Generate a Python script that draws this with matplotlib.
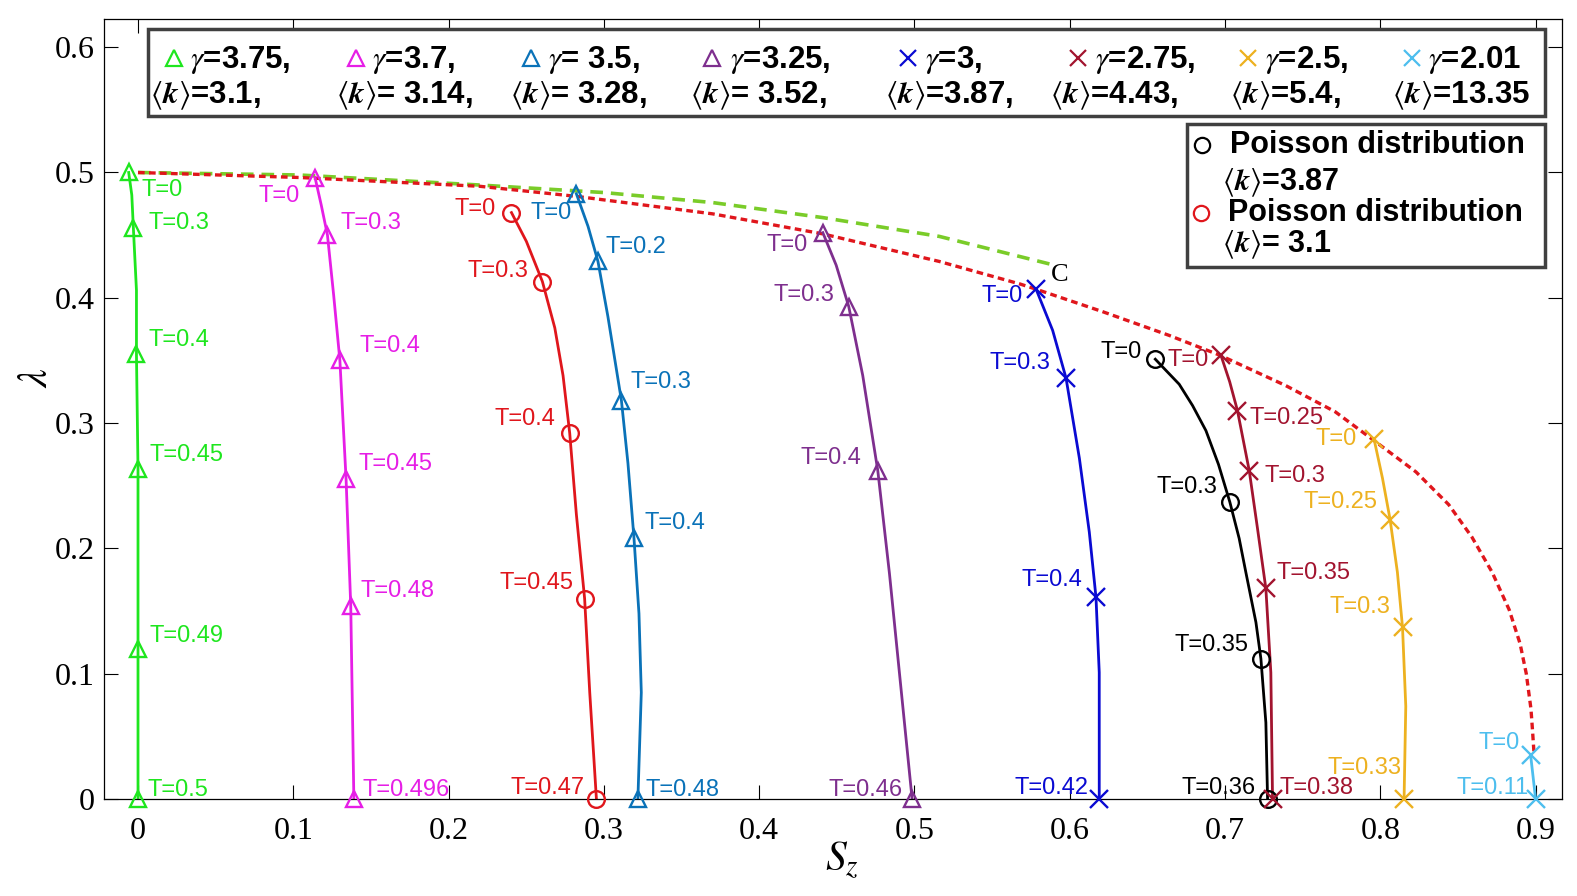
import matplotlib
matplotlib.use('Agg')
import matplotlib.pyplot as plt
from matplotlib.patches import Rectangle
from matplotlib.lines import Line2D

plt.rcParams['font.family'] = ['Liberation Sans', 'DejaVu Sans']
plt.rcParams['mathtext.fontset'] = 'stix'

W, H = 1577, 896

# ---------------- data ----------------
# gamma = 3.75, <k> = 3.1
g375_x = [-0.006, -0.003, -0.001, 0.0, 0.0, 0.0]
g375_y = [0.500, 0.456, 0.355, 0.263, 0.120, 0.0]
g375_T = ['0', '0.3', '0.4', '0.45', '0.49', '0.5']
g375_cx = [-0.006, -0.004, -0.003, -0.001, -0.001, 0.0, 0.0, 0.0]
g375_cy = [0.500, 0.482, 0.456, 0.406, 0.355, 0.263, 0.120, 0.0]

# gamma = 3.7, <k> = 3.14
g37_x = [0.114, 0.122, 0.130, 0.134, 0.137, 0.139]
g37_y = [0.496, 0.450, 0.350, 0.255, 0.154, 0.0]
g37_T = ['0', '0.3', '0.4', '0.45', '0.48', '0.496']
g37_cx = [0.114, 0.118, 0.122, 0.126, 0.130, 0.134, 0.137, 0.139]
g37_cy = [0.496, 0.474, 0.450, 0.402, 0.350, 0.255, 0.154, 0.0]

# Poisson, <k> = 3.1
p31_x = [0.2405, 0.2604, 0.2780, 0.2876, 0.2952]
p31_y = [0.468, 0.413, 0.292, 0.160, 0.0]
p31_T = ['0', '0.3', '0.4', '0.45', '0.47']
p31_cx = [0.2405, 0.2501, 0.2604, 0.2684, 0.2737, 0.2780, 0.2823, 0.2876, 0.2909, 0.2952]
p31_cy = [0.468, 0.445, 0.413, 0.376, 0.338, 0.292, 0.227, 0.160, 0.085, 0.0]

# gamma = 3.5, <k> = 3.28
g35_x = [0.2823, 0.2962, 0.3113, 0.3194, 0.3219]
g35_y = [0.483, 0.429, 0.318, 0.208, 0.0]
g35_T = ['0', '0.2', '0.3', '0.4', '0.48']
g35_cx = [0.2823, 0.2898, 0.2962, 0.3026, 0.3113, 0.3155, 0.3194, 0.3226, 0.3241, 0.3219]
g35_cy = [0.483, 0.457, 0.429, 0.385, 0.318, 0.268, 0.208, 0.148, 0.085, 0.0]

# gamma = 3.25, <k> = 3.52
g325_x = [0.4410, 0.4577, 0.4764, 0.4985]
g325_y = [0.452, 0.393, 0.262, 0.0]
g325_T = ['0', '0.3', '0.4', '0.46']
g325_cx = [0.4410, 0.4496, 0.4577, 0.4667, 0.4764, 0.4839, 0.4903, 0.4985]
g325_cy = [0.452, 0.426, 0.393, 0.338, 0.262, 0.180, 0.101, 0.0]

# gamma = 3, <k> = 3.87
g3_x = [0.5783, 0.5976, 0.6169, 0.6190]
g3_y = [0.407, 0.336, 0.161, 0.0]
g3_T = ['0', '0.3', '0.4', '0.42']
g3_cx = [0.5783, 0.5890, 0.5976, 0.6062, 0.6126, 0.6169, 0.6190, 0.6190]
g3_cy = [0.407, 0.374, 0.336, 0.272, 0.213, 0.161, 0.101, 0.0]

# Poisson, <k> = 3.87
p387_x = [0.6551, 0.7031, 0.7231, 0.7274]
p387_y = [0.351, 0.237, 0.112, 0.0]
p387_T = ['0', '0.3', '0.35', '0.36']
p387_cx = [0.6551, 0.6620, 0.6705, 0.6791, 0.6877, 0.6958, 0.7031, 0.7091,
           0.7134, 0.7199, 0.7231, 0.7263, 0.7274]
p387_cy = [0.351, 0.342, 0.331, 0.314, 0.294, 0.267, 0.237, 0.208,
           0.181, 0.141, 0.112, 0.061, 0.0]

# gamma = 2.75, <k> = 4.43
g275_x = [0.6974, 0.7080, 0.7156, 0.7263, 0.7306]
g275_y = [0.354, 0.310, 0.262, 0.168, 0.0]
g275_T = ['0', '0.25', '0.3', '0.35', '0.38']
g275_cx = [0.6974, 0.7030, 0.7080, 0.7156, 0.7209, 0.7263, 0.7295, 0.7306]
g275_cy = [0.354, 0.333, 0.310, 0.262, 0.216, 0.168, 0.101, 0.0]

# gamma = 2.5, <k> = 5.4
g25_x = [0.7960, 0.8063, 0.8143, 0.8153]
g25_y = [0.287, 0.223, 0.137, 0.0]
g25_T = ['0', '0.25', '0.3', '0.33']
g25_cx = [0.7960, 0.8014, 0.8063, 0.8110, 0.8143, 0.8164, 0.8153]
g25_cy = [0.287, 0.256, 0.223, 0.181, 0.137, 0.074, 0.0]

# gamma = 2.01, <k> = 13.35
g201_x = [0.8968, 0.9000]
g201_y = [0.035, 0.0]
g201_T = ['0', '0.11']

# boundary curves
red_bx = [0.0, 0.104, 0.220, 0.282, 0.370, 0.441, 0.516, 0.568, 0.578, 0.621,
          0.664, 0.697, 0.739, 0.771, 0.796, 0.823, 0.844, 0.859, 0.872, 0.883,
          0.890, 0.894, 0.897, 0.898, 0.899]
red_by = [0.500, 0.496, 0.489, 0.481, 0.467, 0.451, 0.429, 0.411, 0.407, 0.389,
          0.370, 0.354, 0.330, 0.309, 0.286, 0.261, 0.235, 0.209, 0.181, 0.151,
          0.124, 0.100, 0.072, 0.055, 0.036]
green_bx = [0.0, 0.104, 0.220, 0.300, 0.370, 0.441, 0.516, 0.587]
green_by = [0.500, 0.498, 0.490, 0.484, 0.476, 0.464, 0.449, 0.427]

gammas = ['3.75', '3.7', ' 3.5', '3.25', '3', '2.75', '2.5', '2.01']
kmeans = ['3.1', ' 3.14', ' 3.28', ' 3.52', '3.87', '4.43', '5.4', '13.35']

# ---------------- styles / label offsets (pixels) ----------------
g375_off = [(13, -18), (15, 5), (12, 14), (11, 14), (11, 13), (9, 9)]
g37_off = [(-15, -18), (13, 12), (20, 14), (12, 15), (10, 15), (9, 9)]
p31_off = [(-16, 4), (-14, 11), (-14, 14), (-11, 16), (-12, 11)]
g35_off = [(-5, -19), (8, 14), (9, 19), (11, 15), (8, 9)]
g325_off = [(-15, -12), (-14, 12), (-16, 13), (-9, 9)]
g3_off = [(-13, -7), (-16, 15), (-14, 17), (-11, 11)]
p387_off = [(-14, 7), (-12, 15), (-12, 14), (-12, 11)]
g275_off = [(-12, -5), (12, -7), (15, -5), (11, 15), (7, 11)]
g25_off = [(-17, 0), (-13, 18), (-12, 20), (-3, 31)]
g201_off = [(-11, 12), (-7, 11)]

series = [
    (g375_cx, g375_cy, g375_x, g375_y, g375_T, g375_off, '#1ee61e', '^'),
    (g37_cx, g37_cy, g37_x, g37_y, g37_T, g37_off, '#e61ee6', '^'),
    (p31_cx, p31_cy, p31_x, p31_y, p31_T, p31_off, '#e0161c', 'o'),
    (g35_cx, g35_cy, g35_x, g35_y, g35_T, g35_off, '#0a72b8', '^'),
    (g325_cx, g325_cy, g325_x, g325_y, g325_T, g325_off, '#7e2f8e', '^'),
    (g3_cx, g3_cy, g3_x, g3_y, g3_T, g3_off, '#0a0ad2', 'x'),
    (p387_cx, p387_cy, p387_x, p387_y, p387_T, p387_off, 'black', 'o'),
    (g275_cx, g275_cy, g275_x, g275_y, g275_T, g275_off, '#a2142f', 'x'),
    (g25_cx, g25_cy, g25_x, g25_y, g25_T, g25_off, '#edb120', 'x'),
    (g201_x, g201_y, g201_x, g201_y, g201_T, g201_off, '#4dbeee', 'x'),
]
legend_cols = ['#1ee61e', '#e61ee6', '#0a72b8', '#7e2f8e',
               '#0a0ad2', '#a2142f', '#edb120', '#4dbeee']
legend_marks = ['^', '^', '^', '^', 'x', 'x', 'x', 'x']
leg_mx = [174, 356, 531, 712, 908, 1078, 1248, 1412]
leg_t1 = [190, 372, 548, 730, 925, 1095, 1265, 1428]
leg_t2 = [150, 336, 510, 690, 885, 1050, 1230, 1392]

fig = plt.figure(figsize=(W / 100, H / 100), dpi=100)
ax = fig.add_axes([104 / W, 1 - 799 / H, (1562 - 104) / W, (799 - 19) / H])

ax.plot(green_bx, green_by, color='#7acc29', lw=2.6, dashes=(3.5, 2.2), zorder=1)
ax.plot(red_bx, red_by, color='#e0161c', lw=2.4, dashes=(2.0, 1.3), zorder=1)

for cx, cy, mx, my, tl, off, col, mk in series:
    ax.plot(cx, cy, '-', color=col, lw=2.0, zorder=2)
    ms = 13 if mk == 'x' else 12
    ax.plot(mx, my, mk, color=col, ms=ms, mfc='none', mew=1.7,
            clip_on=False, zorder=3)
    for x, y, t, (dx, dy) in zip(mx, my, tl, off):
        ax.annotate('T=' + t, (x, y), xytext=(dx, dy), textcoords='offset pixels',
                    ha='left' if dx > 0 else 'right', va='center',
                    color=col, fontsize=17, annotation_clip=False, zorder=4)

ax.text(0.588, 0.418, 'C', family='Liberation Serif', fontsize=19,
        va='center', ha='left')

ax.set_xlim(-0.0219, 0.917)
ax.set_ylim(0.0, 0.6225)
ax.set_xticks([0, 0.1, 0.2, 0.3, 0.4, 0.5, 0.6, 0.7, 0.8, 0.9])
ax.set_xticklabels(['0', '0.1', '0.2', '0.3', '0.4', '0.5', '0.6', '0.7', '0.8', '0.9'])
ax.set_yticks([0, 0.1, 0.2, 0.3, 0.4, 0.5, 0.6])
ax.set_yticklabels(['0', '0.1', '0.2', '0.3', '0.4', '0.5', '0.6'])
ax.tick_params(direction='in', length=10, width=0.8, top=True, right=True,
               labelsize=23)
ax.tick_params(axis='x', pad=13)
ax.tick_params(axis='y', pad=7)
for lab in ax.get_xticklabels() + ax.get_yticklabels():
    lab.set_family('Liberation Serif')
for sp in ax.spines.values():
    sp.set_linewidth(0.9)

ax.set_xlabel(r'$S_z$', fontsize=30)
ax.xaxis.set_label_coords(0.506, -0.052)
ax.set_ylabel(r'$\lambda$', fontsize=30)
ax.yaxis.set_label_coords(-0.033, 0.54)


def fx(px):
    return px / W


def fy(py):
    return 1 - py / H


# legend boxes
fig.add_artist(Rectangle((fx(148), fy(116)), (1545 - 148) / W, (116 - 29) / H,
                         transform=fig.transFigure, facecolor='white',
                         edgecolor='#404040', lw=2.5, zorder=5))
fig.add_artist(Rectangle((fx(1187), fy(267)), (1545 - 1187) / W, (267 - 124) / H,
                         transform=fig.transFigure, facecolor='white',
                         edgecolor='#404040', lw=2.5, zorder=5))

for i in range(8):
    fig.add_artist(Line2D([fx(leg_mx[i])], [fy(58)], marker=legend_marks[i],
                          color=legend_cols[i], ms=12, mfc='none', mew=1.6,
                          transform=fig.transFigure, zorder=6))
    fig.text(fx(leg_t1[i]), fy(60), r'$\gamma$=' + gammas[i] + (',' if i < 7 else ''),
             fontsize=22.5, fontweight='bold', va='center', ha='left', zorder=6)
    fig.text(fx(leg_t2[i]), fy(96), r'$\langle\mathbfit{k}\rangle$=' + kmeans[i] + (',' if i < 7 else ''),
             fontsize=22.5, fontweight='bold', va='center', ha='left', zorder=6)

fig.add_artist(Line2D([fx(1202)], [fy(145)], marker='o', color='black', ms=11,
                      mfc='none', mew=1.6, transform=fig.transFigure, zorder=6))
fig.add_artist(Line2D([fx(1201)], [fy(213)], marker='o', color='#e0161c', ms=11,
                      mfc='none', mew=1.6, transform=fig.transFigure, zorder=6))
fig.text(fx(1230), fy(145), 'Poisson distribution', fontsize=22, fontweight='bold',
         va='center', ha='left', zorder=6)
fig.text(fx(1222), fy(183), r'$\langle\mathbfit{k}\rangle$=3.87', fontsize=22,
         fontweight='bold', va='center', ha='left', zorder=6)
fig.text(fx(1228), fy(213), 'Poisson distribution', fontsize=22, fontweight='bold',
         va='center', ha='left', zorder=6)
fig.text(fx(1222), fy(245), r'$\langle\mathbfit{k}\rangle$= 3.1', fontsize=22,
         fontweight='bold', va='center', ha='left', zorder=6)

fig.savefig('out.png', dpi=100)
